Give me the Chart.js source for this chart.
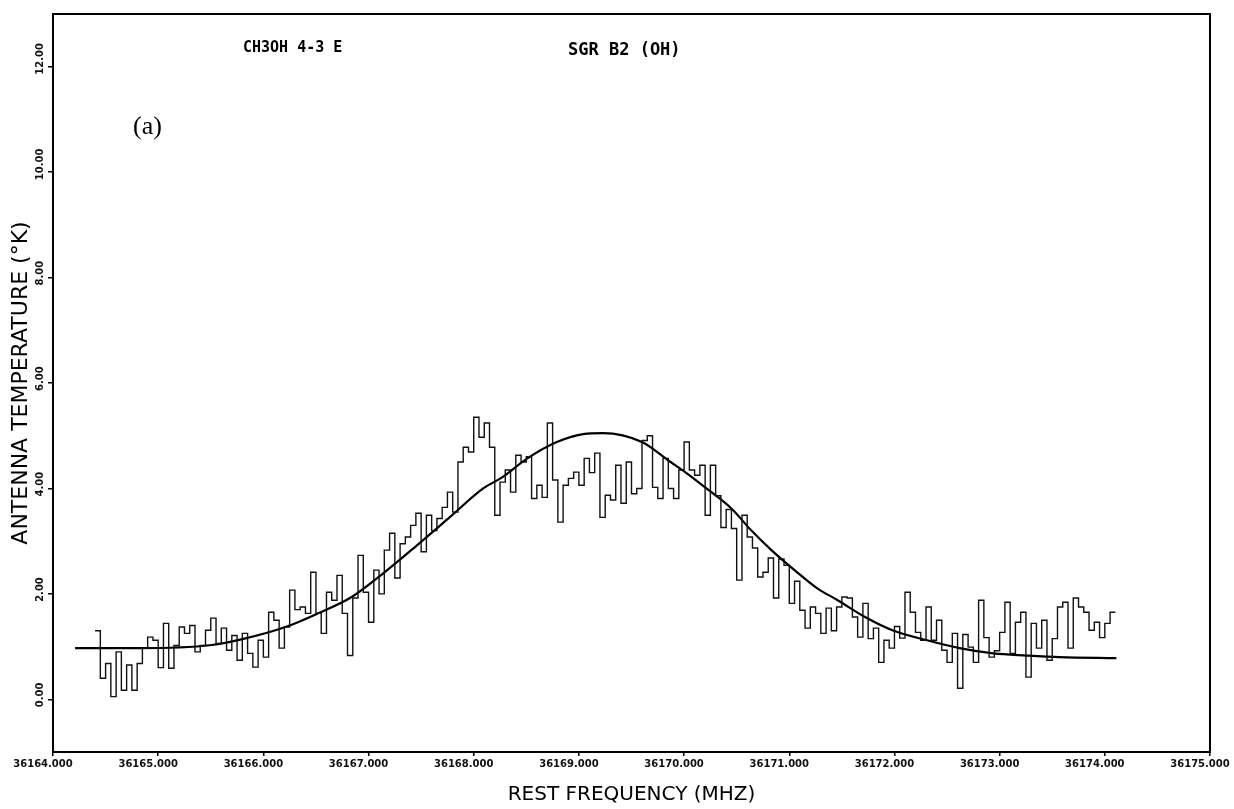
<!DOCTYPE html>
<html>
<head>
<meta charset="utf-8">
<script src="https://cdn.jsdelivr.net/npm/chart.js@4.4.0/dist/chart.umd.min.js"></script>
<style>
  html, body { margin: 0; padding: 0; background: #fff; }
  #wrap { width: 1234px; height: 809px; }
</style>
</head>
<body>
<div id="wrap"><canvas id="spec" width="1234" height="809"></canvas></div>
<script>
// channel grid of the spectrum (MHz)
var chanStart = 36164.40;
var chanWidth = 0.05;

// antenna temperature per channel (K)
var tempK = [
  1.3, 0.4, 0.68, 0.05, 0.9, 0.17, 0.65, 0.17, 0.68, 0.97, 1.18, 1.12, 0.6, 1.44, 0.59, 1.02, 1.37, 1.25, 1.4, 0.9,
  1.02, 1.31, 1.54, 1.06, 1.35, 0.93, 1.21, 0.74, 1.25, 0.87, 0.61, 1.12, 0.8, 1.65, 1.5, 0.97, 1.37, 2.07, 1.7, 1.75,
  1.63, 2.41, 1.63, 1.25, 2.03, 1.88, 2.35, 1.63, 0.83,
  1.92, 2.73, 2.03, 1.46, 2.45, 2.0, 2.83, 3.15, 2.3, 2.95, 3.08, 3.3, 3.53, 2.8, 3.49, 3.2, 3.43, 3.64, 3.93, 3.55,
  4.5, 4.78, 4.69, 5.35, 4.97, 5.24, 4.78, 3.49, 4.12, 4.35, 3.93, 4.63, 4.5, 4.6, 3.81, 4.06, 3.83, 5.24, 4.16, 3.36,
  4.06, 4.19, 4.31, 4.06, 4.57, 4.3, 4.67, 3.45, 3.87,
  3.78, 4.44, 3.72, 4.5, 3.9, 4.0, 4.91, 5.0, 4.02, 3.81, 4.57, 4.0, 3.81, 4.35, 4.88, 4.35, 4.25, 4.44, 3.49, 4.44,
  3.86, 3.26, 3.6, 3.24, 2.26, 3.49, 3.08, 2.87, 2.32, 2.41, 2.68, 1.92, 2.66, 2.54, 1.82, 2.24, 1.69, 1.35, 1.75, 1.63,
  1.25, 1.73, 1.3, 1.75, 1.94, 1.92, 1.56, 1.18, 1.82,
  1.15, 1.35, 0.7, 1.12, 0.97, 1.38, 1.16, 2.03, 1.65, 1.27, 1.12, 1.75, 1.12, 1.5, 0.93, 0.7, 1.25, 0.21, 1.23, 0.99,
  0.7, 1.88, 1.17, 0.8, 0.92, 1.27, 1.84, 0.87, 1.46, 1.65, 0.42, 1.44, 0.97, 1.5, 0.74, 1.15, 1.75, 1.84, 0.97, 1.92,
  1.75, 1.65, 1.31, 1.46, 1.17, 1.44, 1.65
];

// gaussian fit curve, sampled from the plot
var fitFreq = [36164.21, 36164.81, 36165.51, 36165.80, 36166.21, 36166.52, 36166.84, 36167.14, 36167.46, 36167.77,
  36168.09, 36168.27, 36168.51, 36168.79, 36169.04, 36169.23, 36169.60, 36169.85, 36170.01, 36170.20,
  36170.45, 36170.64, 36170.83, 36171.05, 36171.27, 36171.46, 36171.72, 36171.98, 36172.31, 36172.62,
  36172.94, 36173.26, 36173.57, 36174.11];
var fitTemp = [0.97, 0.97, 1.03, 1.14, 1.37, 1.63, 1.94, 2.39, 2.92, 3.45,
  4.0, 4.21, 4.57, 4.88, 5.03, 5.05, 4.88, 4.53, 4.31, 4.02,
  3.62, 3.2, 2.83, 2.45, 2.1, 1.88, 1.56, 1.31, 1.12, 0.97,
  0.87, 0.83, 0.80, 0.78];

var xTicks = [36164, 36165, 36166, 36167, 36168, 36169, 36170, 36171, 36172, 36173, 36174, 36175];
var xTickLabels = ['36164.000', '36165.000', '36166.000', '36167.000', '36168.000', '36169.000',
  '36170.000', '36171.000', '36172.000', '36173.000', '36174.000', '36175.000'];
var yTicks = [0, 2, 4, 6, 8, 10, 12];
var yTickLabels = ['0.00', '2.00', '4.00', '6.00', '8.00', '10.00', '12.00'];

var lineTitle = 'CH3OH 4-3 E';
var sourceTitle = 'SGR B2 (OH)';
var panelTag = '(a)';

// step points: one per channel edge, last value closes the final channel
var specPoints = tempK.map(function(v, i){ return { x: chanStart + i * chanWidth, y: v }; });
specPoints.push({ x: chanStart + tempK.length * chanWidth, y: tempK[tempK.length - 1] });
var fitPoints = fitFreq.map(function(f, i){ return { x: f, y: fitTemp[i] }; });

// box round the plot plus the rotated y labels and the header texts
var decorations = {
  id: 'decorations',
  afterDraw: function(chart){
    var ctx = chart.ctx;
    var a = chart.chartArea;
    ctx.save();
    ctx.strokeStyle = '#000';
    ctx.lineWidth = 2;
    ctx.strokeRect(a.left, a.top, a.right - a.left, a.bottom - a.top);

    var ys = chart.scales.y;
    ctx.fillStyle = '#111';
    ctx.font = 'bold 10px "DejaVu Sans"';
    ctx.textAlign = 'left';
    ctx.textBaseline = 'middle';
    yTicks.forEach(function(v, i){
      ctx.save();
      ctx.translate(40, ys.getPixelForValue(v) + 8);
      ctx.rotate(-Math.PI / 2);
      ctx.fillText(yTickLabels[i], 0, 0);
      ctx.restore();
    });

    ctx.fillStyle = '#000';
    ctx.font = 'bold 15px "DejaVu Sans Mono"';
    ctx.fillText(lineTitle, 243, 48);
    ctx.font = 'bold 17px "DejaVu Sans Mono"';
    ctx.fillText(sourceTitle, 568, 51);
    ctx.font = '26px "Liberation Serif"';
    ctx.fillText(panelTag, 133, 127);
    ctx.restore();
  }
};

new Chart(document.getElementById('spec').getContext('2d'), {
  type: 'line',
  data: {
    datasets: [{
      label: 'spectrum',
      data: specPoints,
      stepped: true,
      borderColor: '#111',
      borderWidth: 1.4,
      pointRadius: 0,
      fill: false
    }, {
      label: 'fit',
      data: fitPoints,
      borderColor: '#000',
      borderWidth: 2.2,
      pointRadius: 0,
      cubicInterpolationMode: 'monotone',
      fill: false
    }]
  },
  options: {
    responsive: false,
    animation: false,
    devicePixelRatio: 1,
    layout: { padding: { top: 14, right: 24, bottom: 0, left: 0 } },
    plugins: {
      legend: { display: false },
      tooltip: { enabled: false }
    },
    scales: {
      x: {
        type: 'linear',
        min: 36164,
        max: 36175,
        afterBuildTicks: function(s){ s.ticks = xTicks.map(function(v){ return { value: v }; }); },
        afterFit: function(s){ s.height = 57; s.paddingLeft = 0; s.paddingRight = 0; },
        grid: { display: true, drawOnChartArea: false, drawTicks: true, tickLength: 4, color: '#000', lineWidth: 1.5 },
        border: { display: true, color: '#000', width: 2 },
        ticks: {
          autoSkip: false,
          maxRotation: 0,
          padding: 2,
          labelOffset: -10,
          color: '#111',
          font: { family: 'DejaVu Sans', size: 10, weight: 'bold' },
          callback: function(v, i){ return xTickLabels[i]; }
        },
        title: {
          display: true,
          text: 'REST FREQUENCY (MHZ)',
          color: '#000',
          font: { family: 'DejaVu Sans', size: 20 },
          padding: { top: 0, bottom: 2 }
        }
      },
      y: {
        min: -1,
        max: 13,
        afterBuildTicks: function(s){ s.ticks = yTicks.map(function(v){ return { value: v }; }); },
        afterFit: function(s){ s.width = 53; s.paddingTop = 0; s.paddingBottom = 0; },
        grid: { display: true, drawOnChartArea: false, drawTicks: true, tickLength: 5, color: '#000', lineWidth: 1.5 },
        border: { display: true, color: '#000', width: 2 },
        ticks: { display: false },
        title: {
          display: true,
          text: 'ANTENNA TEMPERATURE (°K)',
          color: '#000',
          font: { family: 'DejaVu Sans', size: 22 },
          padding: { top: 8, bottom: 0 }
        }
      }
    }
  },
  plugins: [decorations]
});
</script>
</body>
</html>
